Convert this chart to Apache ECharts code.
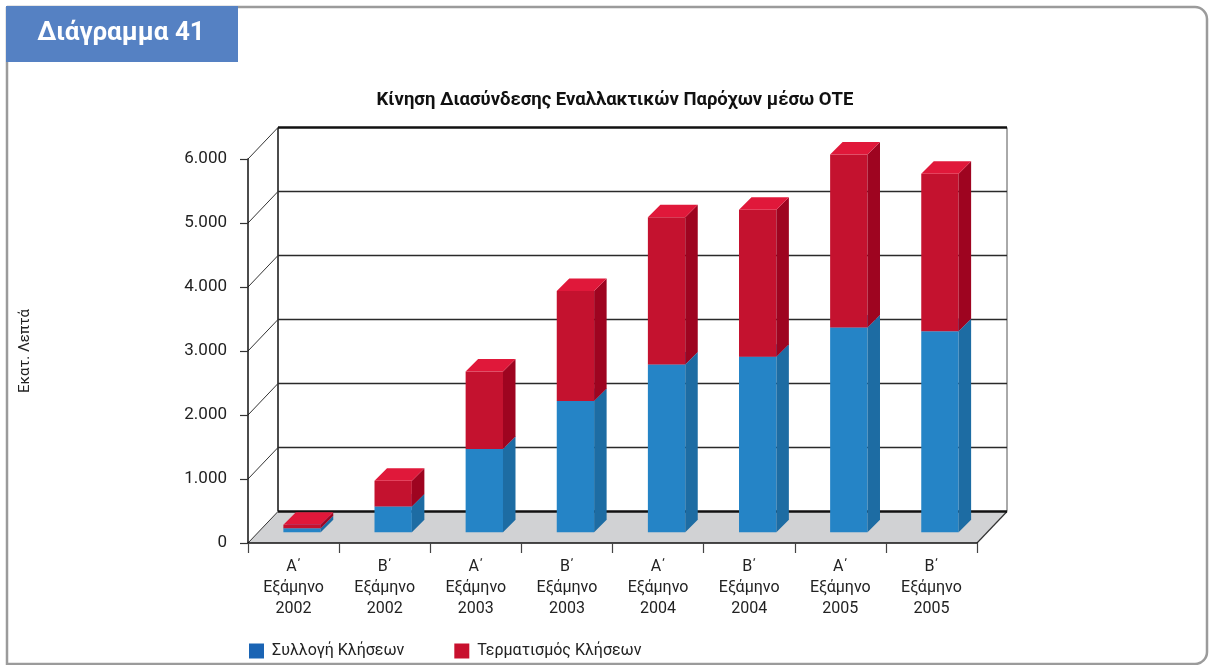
<!DOCTYPE html>
<html>
<head>
<meta charset="utf-8">
<script src="https://cdn.jsdelivr.net/npm/echarts@6/dist/echarts.min.js"></script>
<style>
html,body{margin:0;padding:0;background:#fff;}
#chart{width:1209px;height:665px;}
</style>
</head>
<body>
<div id="chart"></div>
<script>
// ---- data ----
const halves = ['Α΄', 'Β΄', 'Α΄', 'Β΄', 'Α΄', 'Β΄', 'Α΄', 'Β΄'];
const years = ['2002', '2002', '2003', '2003', '2004', '2004', '2005', '2005'];
const categories = halves.map((h, i) => h + '\nΕξάμηνο\n' + years[i]);
const collection = [60, 400, 1300, 2050, 2620, 2740, 3200, 3140];      // Συλλογή Κλήσεων
const termination = [55, 405, 1210, 1720, 2300, 2300, 2700, 2460];     // Τερματισμός Κλήσεων
const yTicks = [0, 1000, 2000, 3000, 4000, 5000, 6000];
const seriesNames = ['Συλλογή Κλήσεων', 'Τερματισμός Κλήσεων'];
const titleText = 'Κίνηση Διασύνδεσης Εναλλακτικών Παρόχων μέσω ΟΤΕ';
const yName = 'Εκατ. Λεπτά';
const headerText = 'Διάγραμμα 41';

// ---- style constants ----
const WALL_DX = 30, WALL_DY = -31.5;
const BAR_SX = 8.5, BAR_SY = -10.8;
const BAR_DX = 12.5, BAR_DY = -12.5;
const BAR_W = 0.41;
const FONT = 'Roboto, "Noto Sans", sans-serif';

const blueFaces = { front: '#2584c6', side: '#1d6ca3', top: '#3a98d6' };
const redFaces = { front: '#c4122f', side: '#9e0420', top: '#e0183a' };

function barRenderer(faces) {
  return function (params, api) {
    const i = api.value(0), lo = api.value(1), hi = api.value(2);
    const pLo = api.coord([i, lo]);
    const pHi = api.coord([i, hi]);
    const bw = api.size([1, 0])[0];
    const w = bw * BAR_W;
    const x0 = pLo[0] - w / 2 + BAR_SX, x1 = x0 + w;
    const yb = pLo[1] + BAR_SY, yt = pHi[1] + BAR_SY;
    return {
      type: 'group',
      children: [
        { type: 'polygon', shape: { points: [[x0, yb], [x1, yb], [x1, yt], [x0, yt]] }, style: { fill: faces.front } },
        { type: 'polygon', shape: { points: [[x1, yb], [x1 + BAR_DX, yb + BAR_DY], [x1 + BAR_DX, yt + BAR_DY], [x1, yt]] }, style: { fill: faces.side } },
        { type: 'polygon', shape: { points: [[x0, yt], [x1, yt], [x1 + BAR_DX, yt + BAR_DY], [x0 + BAR_DX, yt + BAR_DY]] }, style: { fill: faces.top } }
      ]
    };
  };
}

function floorRenderer(params, api) {
  const cs = params.coordSys;
  const xl = cs.x, xr = cs.x + cs.width;
  const y0 = api.coord([0, api.value(1)])[1];
  const yTop = cs.y;
  return {
    type: 'group',
    children: [
      { type: 'polygon', shape: { points: [[xl, y0], [xr, y0], [xr + WALL_DX, y0 + WALL_DY], [xl + WALL_DX, y0 + WALL_DY]] }, style: { fill: '#d1d2d4' } },
      { type: 'line', shape: { x1: xr, y1: y0, x2: xr + WALL_DX, y2: y0 + WALL_DY }, style: { stroke: '#333', lineWidth: 1.2 } },
      { type: 'line', shape: { x1: xl + WALL_DX, y1: yTop + WALL_DY, x2: xl + WALL_DX, y2: y0 + WALL_DY }, style: { stroke: '#111', lineWidth: 1.5 } },
      { type: 'line', shape: { x1: xr + WALL_DX, y1: yTop + WALL_DY, x2: xr + WALL_DX, y2: y0 + WALL_DY }, style: { stroke: '#555', lineWidth: 1 } }
    ]
  };
}

function wallRenderer(params, api) {
  const cs = params.coordSys;
  const xl = cs.x, xr = cs.x + cs.width;
  const v = api.value(1);
  const y = api.coord([0, v])[1];
  const edge = (v === yTicks[0] || v === yTicks[yTicks.length - 1]);
  return {
    type: 'group',
    children: [
      { type: 'line', shape: { x1: xl, y1: y, x2: xl + WALL_DX, y2: y + WALL_DY }, style: { stroke: '#333', lineWidth: 1 } },
      { type: 'line', shape: { x1: xl + WALL_DX, y1: y + WALL_DY, x2: xr + WALL_DX, y2: y + WALL_DY }, style: { stroke: edge ? '#111' : '#2a2a2a', lineWidth: edge ? 2.4 : 1.3 } }
    ]
  };
}

const chart = echarts.init(document.getElementById('chart'), null, { renderer: 'canvas' });

const option = {
  backgroundColor: '#fff',
  animation: false,
  title: {
    text: titleText,
    left: 610,
    textAlign: 'center',
    top: 86,
    textStyle: { fontFamily: FONT, fontSize: 18.5, fontWeight: 'bold', color: '#111' }
  },
  legend: {
    data: seriesNames,
    left: 249,
    top: 643,
    padding: 0,
    itemWidth: 15,
    itemHeight: 15,
    itemGap: 50,
    icon: 'rect',
    textStyle: { fontFamily: FONT, fontSize: 16, color: '#222', padding: [0, 0, 0, 3] }
  },
  grid: { left: 248, right: 232, top: 159, bottom: 122, containLabel: false },
  xAxis: {
    type: 'category',
    data: categories,
    z: 10,
    axisLine: { lineStyle: { color: '#111', width: 1.5 } },
    axisTick: { show: true, length: 10, lineStyle: { color: '#444', width: 1.2 } },
    axisLabel: { fontFamily: FONT, fontSize: 16, color: '#222', lineHeight: 21, margin: 13, interval: 0 },
    splitLine: { show: false }
  },
  yAxis: {
    type: 'value',
    min: 0, max: 6000, interval: 1000,
    z: 10,
    name: yName,
    nameLocation: 'middle',
    nameGap: 215,
    nameRotate: 90,
    nameTextStyle: { fontFamily: FONT, fontSize: 15, color: '#222' },
    axisLine: { show: true, lineStyle: { color: '#111', width: 1.5 } },
    axisTick: { show: true, length: 8, lineStyle: { color: '#333', width: 1.2 } },
    axisLabel: {
      fontFamily: FONT, fontSize: 17, color: '#222', margin: 21,
      formatter: v => v === 0 ? '0' : (v / 1000) + '.000'
    },
    splitLine: { show: false }
  },
  graphic: [
    { type: 'rect', z: 0, silent: true, shape: { x: 7, y: 7, width: 1200, height: 657, r: [0, 12, 12, 0] }, style: { fill: 'none', stroke: '#9b9b9b', lineWidth: 2.5 } },
    { type: 'rect', z: 1, silent: true, shape: { x: 6, y: 6, width: 232, height: 56 }, style: { fill: '#5581c3' } },
    { type: 'text', z: 2, silent: true, x: 121, y: 33, style: { text: headerText, fill: '#fff', font: 'bold 26px ' + FONT, textAlign: 'center', textVerticalAlign: 'middle' } }
  ],
  series: [
    {
      type: 'custom', name: 'floor', silent: true,
      data: [[0, yTicks[0]]],
      encode: { x: 0, y: 1 },
      renderItem: floorRenderer
    },
    {
      type: 'custom', name: 'wall', silent: true,
      data: yTicks.map(v => [0, v]),
      encode: { x: 0, y: 1 },
      renderItem: wallRenderer
    },
    {
      type: 'custom', name: seriesNames[0],
      itemStyle: { color: '#1a64b4' },
      data: collection.map((v, i) => [i, 0, v]),
      encode: { x: 0, y: [1, 2] },
      renderItem: barRenderer(blueFaces)
    },
    {
      type: 'custom', name: seriesNames[1],
      itemStyle: { color: '#c8102e' },
      data: termination.map((v, i) => [i, collection[i], collection[i] + v]),
      encode: { x: 0, y: [1, 2] },
      renderItem: barRenderer(redFaces)
    }
  ]
};
chart.setOption(option);
</script>
</body>
</html>
